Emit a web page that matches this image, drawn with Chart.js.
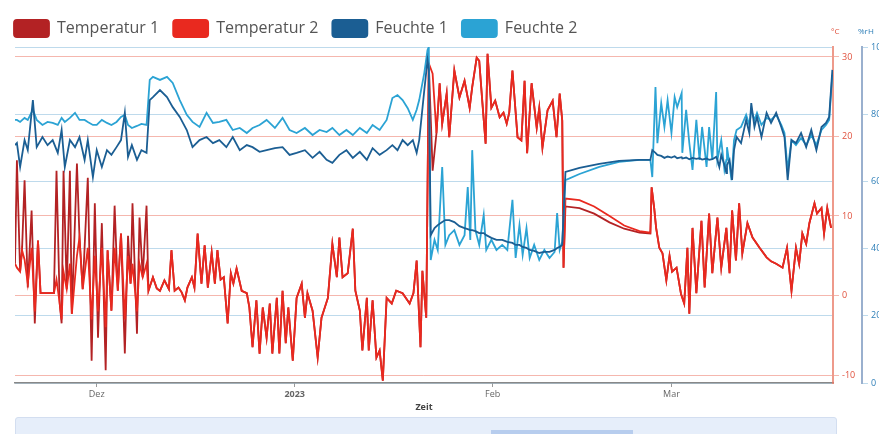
<!DOCTYPE html>
<html lang="de">
<head>
<meta charset="UTF-8">
<title>Temperatur und Feuchte</title>
<script src="https://cdn.jsdelivr.net/npm/chart.js"></script>
<style>
  html, body { margin: 0; padding: 0; background: #fff; overflow: hidden; }
  #wrap { position: absolute; left: 0; top: 0; width: 892px; height: 413px; }
  #leiste { position: absolute; left: 15px; top: 417px; width: 820px; height: 22px; background: #e6eefa; border: 1px solid #d3def0; border-radius: 3px; }
  #fenster { position: absolute; left: 475px; top: 12px; width: 142px; height: 6px; background: #b7cdee; }
</style>
</head>
<body>
<div id="wrap"><canvas id="klimaChart"></canvas></div>
<div id="leiste"><div id="fenster"></div></div>

<script>
// Zeit in Tagen ab 1. Dez 2022
const tageT = [
  -12.8, -12.5, -12.0, -11.7, -11.3, -10.8, -10.2, -9.7, -9.2, -8.8,
  -6.7, -6.3, -5.8, -5.5, -5.2, -4.7, -4.2, -3.9, -3.1, -2.7,
  -2.2, -1.4, -0.8, -0.3, 0.2, 0.8, 1.4, 1.7, 2.3, 2.8,
  3.3, 3.8, 4.4, 4.9, 5.3, 5.6, 6.3, 6.7, 7.2, 7.8, 8.1,
  8.8, 9.4, 9.9, 10.6, 11.3, 11.7, 12.2, 12.8, 13.3, 13.8,
  14.2, 14.9, 15.3, 15.8, 16.4, 16.9, 17.4, 18.0, 18.5, 18.9,
  19.4, 19.9, 20.5, 21.0, 21.4, 21.9, 22.7, 23.5, 23.9, 24.4,
  25.0, 25.5, 26.0, 26.6, 27.1, 27.5, 28.2, 28.6, 29.1, 29.6,
  30.0, 30.7, 31.3, 32.1, 32.6, 33.0, 33.8, 34.6, 35.2, 36.2,
  36.9, 37.6, 38.0, 38.5, 39.3, 40.1, 40.5, 41.2, 41.6, 42.3,
  42.6, 43.2, 43.8, 44.3, 44.8, 45.4, 46.2, 46.9, 47.9, 49.0,
  49.6, 50.1, 50.7, 51.0, 51.6,
  52.0, 52.6, 53.2, 53.7, 54.1, 54.8, 55.2, 56.0, 56.8, 57.6,
  58.4, 58.8, 59.5, 59.9, 60.4, 60.9, 61.2, 61.8, 62.4, 63.1,
  63.7, 64.2, 64.6, 65.1, 65.9, 66.5, 67.0, 67.4, 68.1, 68.9,
  69.3, 69.8, 70.6, 71.4, 72.0, 72.5, 72.9, 73.1,
  73.4, 75.6, 77.9, 80.3, 82.6, 85.0, 86.7,
  86.9, 87.3, 87.6, 88.1, 88.6, 89.2, 89.7, 90.1, 90.8, 91.5,
  92.0, 92.5, 92.8, 93.3, 93.9, 94.7, 95.2, 95.9, 96.4, 97.2,
  97.8, 98.6, 99.1, 99.5, 100.1, 100.6, 101.1, 101.9, 102.7, 103.8,
  104.9, 105.6, 106.4, 107.4, 108.1, 108.8, 109.5, 110.0, 110.5, 111.1,
  111.6, 112.4, 112.8, 113.5, 113.9, 114.4, 115.0
];

const temp1 = [
  4.0, 17.0, 3.0, 5.7, 14.5, 1.0, 10.7, -3.5, 6.9, 0.3,
  0.3, 15.7, -1.0, -3.5, 15.7, 0.8, 15.7, -2.3, 16.6, 7.3,
  0.8, 14.8, -8.2, 11.6, -5.3, 9.1, -9.4, 5.7, -1.9, 11.3,
  0.6, 7.8, -7.3, 7.5, 1.5, 11.6, -4.8, 9.8, 2.3, 11.3, 0.6,
  2.3, 0.9, 0.6, 1.9, 0.8, 5.7, 0.6, 1.0, 0.4, -0.6,
  1.0, 2.3, 1.0, 7.8, 1.5, 6.3, 1.0, 5.4, 1.5, 5.7,
  2.0, 2.3, -3.5, 2.8, 1.5, 3.4, 0.6, 0.3, -1.5, -6.5,
  -0.6, -7.3, -1.5, -5.3, -1.0, -7.3, -0.3, -7.3, 0.6, -6.0,
  -1.5, -8.2, -0.3, 1.5, -2.8, 0.3, -1.9, -7.8, -2.8, -0.3,
  6.5, 2.3, 7.3, 2.3, 2.8, 8.4, 0.6, -1.9, -6.9, -0.3,
  -6.9, -0.6, -7.8, -6.9, -10.7, -0.3, -1.0, 0.6, 0.3, -1.0,
  0.3, 4.4, -6.5, 3.1, -2.8,
  29.2, 15.7, 20.4, 26.7, 21.6, 25.4, 19.9, 28.3, 24.9, 27.0,
  23.6, 26.2, 29.9, 29.5, 24.2, 19.1, 30.4, 23.6, 24.5, 22.4,
  23.0, 21.6, 23.0, 28.3, 19.9, 19.5, 27.0, 17.9, 26.7, 21.1,
  23.6, 18.6, 23.3, 24.5, 19.9, 25.4, 22.0, 3.5,
  11.2, 11.0, 10.3, 9.2, 8.4, 7.9, 7.8,
  13.6, 11.0, 8.5, 6.0, 5.3, 1.9, 5.0, 3.0, 3.5, 0.2,
  -1.0, 6.0, -2.3, 8.5, 0.3, 9.4, 1.0, 10.3, 2.8, 9.8,
  3.5, 8.5, 2.8, 10.7, 4.4, 11.6, 5.3, 9.1, 7.3, 6.0,
  4.8, 4.3, 4.0, 3.5, 6.0, 0.6, 6.0, 4.0, 7.8, 6.5,
  9.1, 11.6, 10.3, 11.0, 7.8, 11.0, 8.5
];

const temp2 = [
  4.0, 3.5, 3.0, 5.7, 4.5, 1.5, 6.0, -2.0, 6.9, 0.3,
  0.3, 2.0, -1.0, -3.0, 3.0, 0.8, 4.0, -2.3, 5.0, 7.3,
  0.8, 6.0, -3.0, 5.0, -2.0, 6.0, -4.0, 5.7, -1.9, 6.0,
  0.6, 7.8, -3.0, 5.0, 1.5, 4.0, -2.0, 4.0, 2.3, 4.0, 0.6,
  2.3, 0.9, 0.6, 1.9, 0.8, 5.7, 0.6, 1.0, 0.4, -0.6,
  1.0, 2.3, 1.0, 7.8, 1.5, 6.3, 1.0, 5.4, 1.5, 5.7,
  2.0, 2.3, -3.5, 2.8, 1.5, 3.4, 0.6, 0.3, -1.5, -6.5,
  -0.6, -7.3, -1.5, -5.3, -1.0, -7.3, -0.3, -7.3, 0.6, -6.0,
  -1.5, -8.2, -0.3, 1.5, -2.8, 0.3, -1.9, -7.8, -2.8, -0.3,
  6.5, 2.3, 7.3, 2.3, 2.8, 8.4, 0.6, -1.9, -6.9, -0.3,
  -6.9, -0.6, -7.8, -6.9, -10.7, -0.3, -1.0, 0.6, 0.3, -1.0,
  0.3, 4.4, -6.5, 3.1, -2.8,
  29.2, 27.9, 20.4, 26.7, 21.6, 25.4, 19.9, 28.3, 24.9, 27.0,
  23.6, 26.2, 29.9, 29.5, 24.2, 19.1, 30.4, 23.6, 24.5, 22.4,
  23.0, 21.6, 23.0, 28.3, 19.9, 19.5, 27.0, 17.9, 26.7, 21.1,
  23.6, 18.6, 23.3, 24.5, 19.9, 25.4, 22.0, 3.5,
  12.2, 12.0, 11.2, 10.0, 8.8, 8.1, 7.9,
  13.6, 11.0, 8.5, 6.0, 5.3, 1.9, 5.0, 3.0, 3.5, 0.2,
  -1.0, 6.0, -2.3, 8.5, 0.3, 9.4, 1.0, 10.3, 2.8, 9.8,
  3.5, 8.5, 2.8, 10.7, 4.4, 11.6, 5.3, 9.1, 7.3, 6.0,
  4.8, 4.3, 4.0, 3.5, 6.0, 0.6, 6.0, 4.0, 7.8, 6.5,
  9.1, 11.6, 10.3, 11.0, 7.8, 11.0, 8.5
];

const tageF = [
  -12.8, -12.5, -12.0, -11.3, -10.8, -10.0, -9.4, -8.5, -7.7, -6.9,
  -6.1, -5.5, -5.0, -4.2, -3.4, -2.7, -1.9, -1.4, -0.6, 0.0,
  0.8, 1.6, 2.3, 3.1, 3.8, 4.4, 4.9, 5.5, 6.3, 7.0,
  7.8, 8.3, 8.8, 9.9, 11.0, 11.9, 13.0, 14.1, 15.0, 16.1,
  17.2, 18.2, 19.2, 20.3, 21.3, 22.4, 23.5, 24.4, 25.5, 26.6,
  27.9, 29.1, 30.2, 31.3, 32.6, 33.8, 34.9, 36.0, 36.9, 38.0,
  39.1, 40.1, 41.2, 42.3, 43.2, 44.3, 45.4, 46.3, 47.1, 47.9,
  48.7, 49.5, 50.1, 50.5, 51.3, 51.8, 52.0,
  52.3, 52.9, 53.4, 54.1, 54.6, 55.2, 56.0, 56.8, 57.6, 58.1,
  58.5, 58.8, 59.3, 59.9, 60.6, 61.0, 61.8, 62.6, 63.5, 64.3,
  65.1, 65.6, 66.2, 66.7, 67.3, 67.8, 68.5, 69.3, 70.1, 70.9,
  71.7, 72.1, 72.5, 72.9,
  73.4, 75.6, 78.7, 81.8, 85.0, 86.7,
  87.0, 87.5, 87.8, 88.4, 88.9, 89.4, 90.0, 90.5, 90.9, 91.6,
  91.7, 92.3, 92.8, 93.3, 93.9, 94.4, 94.8, 95.5, 95.9, 96.4,
  97.0, 97.2, 97.5, 97.8, 98.3, 98.6, 98.7, 99.1, 99.4, 99.5,
  99.8, 100.2, 100.9, 101.7, 102.2, 102.5, 103.0, 103.4, 104.1, 104.9,
  105.6, 106.4, 107.2, 107.7, 108.2, 108.8, 109.5, 110.3, 111.1, 111.9,
  112.7, 113.5, 114.2, 114.7, 115.2
];

const feuchte1 = [
  70.8, 71.4, 64.3, 72.3, 69.3, 84.2, 70.2, 73.2, 70.8, 72.3,
  68.5, 75.3, 64.3, 72.3, 70.2, 73.2, 66.4, 72.3, 61.3, 69.3,
  64.3, 69.3, 67.9, 70.2, 72.3, 80.4, 67.3, 70.8, 66.4, 69.3,
  68.5, 84.2, 85.1, 87.2, 85.1, 82.1, 79.2, 75.3, 70.2, 72.3,
  73.2, 71.4, 72.3, 70.2, 73.2, 69.3, 70.8, 70.2, 68.8, 69.3,
  69.9, 70.2, 67.9, 68.5, 69.3, 67.0, 68.8, 66.4, 65.5, 67.9,
  69.3, 67.0, 68.8, 66.4, 69.9, 67.9, 69.3, 70.8, 69.3, 72.3,
  70.8, 72.3, 68.5, 72.3, 87.2, 96.1, 93.2,
  44.0, 46.1, 47.0, 47.9, 48.5, 48.5, 47.9, 46.7, 46.1, 45.8,
  45.5, 45.5, 45.2, 44.6, 44.6, 44.0, 43.2, 42.6, 42.6, 42.0,
  41.7, 41.1, 41.1, 40.5, 40.2, 39.6, 39.3, 38.7, 39.0, 39.0,
  39.6, 40.2, 40.5, 41.1,
  62.8, 64.0, 65.2, 66.1, 66.4, 66.4,
  69.3, 68.5, 67.9, 67.6, 67.0, 67.4, 67.1, 67.5, 66.9, 67.2,
  66.8, 67.1, 66.6, 67.0, 66.7, 66.9, 66.5, 66.8, 66.4, 66.6,
  67.3, 66.4, 64.3, 67.9, 64.9, 62.5, 64.9, 66.4, 61.9, 60.4,
  69.3, 73.2, 71.4, 78.3, 74.4, 83.3, 76.2, 79.2, 73.2, 80.4,
  77.4, 80.4, 76.2, 73.2, 60.4, 72.3, 71.4, 74.4, 70.2, 75.3,
  69.3, 76.2, 77.4, 79.2, 93.2
];

const feuchte2 = [
  78.3, 78.3, 77.7, 78.9, 78.3, 81.3, 78.3, 76.8, 77.7, 77.4,
  76.8, 78.9, 77.7, 78.9, 80.4, 78.3, 78.3, 77.7, 76.8, 76.8,
  78.3, 77.4, 76.8, 77.7, 79.2, 79.8, 76.8, 75.9, 76.5, 77.1,
  76.8, 90.2, 91.1, 90.2, 91.1, 89.3, 84.2, 79.8, 77.7, 76.2,
  80.4, 77.4, 77.7, 78.3, 75.3, 75.9, 74.4, 75.9, 76.8, 78.3,
  75.9, 78.9, 75.3, 74.4, 75.9, 73.8, 75.3, 74.7, 75.9, 73.8,
  75.3, 73.8, 75.9, 74.4, 76.8, 75.3, 78.3, 84.8, 85.7, 84.2,
  81.8, 78.3, 81.3, 84.2, 92.3, 99.1, 100.0,
  36.6, 42.6, 39.6, 64.3, 41.1, 44.0, 45.5, 41.1, 44.0, 58.3,
  42.6, 69.3, 45.5, 41.1, 50.0, 39.6, 42.6, 39.6, 41.1, 39.6,
  54.5, 37.2, 47.0, 38.1, 46.1, 37.2, 41.1, 36.6, 39.6, 37.2,
  39.0, 50.6, 39.6, 42.0,
  60.4, 62.2, 64.3, 65.8, 66.4, 66.4,
  61.3, 88.1, 71.4, 83.3, 76.2, 84.2, 74.4, 85.1, 82.1, 86.3,
  68.5, 81.3, 71.4, 63.4, 78.3, 66.4, 76.2, 64.3, 76.2, 66.4,
  86.6, 66.4, 69.3, 72.3, 63.4, 66.4, 70.2, 64.9, 60.4, 63.4,
  72.3, 75.3, 76.2, 79.8, 76.8, 81.3, 78.3, 80.4, 76.8, 78.9,
  78.3, 79.8, 76.8, 74.4, 63.4, 72.3, 70.8, 72.9, 70.8, 73.8,
  70.8, 75.3, 76.8, 78.3, 91.7
];

// Achsenbeschriftungen
const monatsTicks = [0, 31, 62, 90];
const monatsLabels = ['Dez', '2023', 'Feb', 'Mar'];
const tempTicks = [-10, 0, 10, 20, 30];
const feuchteTicks = [0, 20, 40, 60, 80, 100];

function punkte(xs, ys) {
    return xs.map((x, i) => ({ x: x, y: ys[i] }));
}

// kleine Einheiten über den rechten Achsen
const einheitenPlugin = {
    id: 'einheiten',
    afterDraw(chart) {
        const ctx = chart.ctx;
        const yT = chart.scales.yT;
        const yF = chart.scales.yF;
        ctx.save();
        ctx.font = "8px 'Open Sans', sans-serif";
        ctx.textBaseline = 'middle';
        ctx.fillStyle = '#e0503c';
        ctx.fillText('°C', yT.left - 2, 32);
        ctx.fillStyle = '#2e7fb8';
        ctx.fillText('%rH', yF.left - 4, 32);
        ctx.restore();
    }
};

Chart.defaults.font.family = "'Open Sans', 'DejaVu Sans', sans-serif";

const ctx = document.getElementById('klimaChart').getContext('2d');
new Chart(ctx, {
    type: 'line',
    data: {
        datasets: [
            { label: 'Temperatur 1', data: punkte(tageT, temp1), yAxisID: 'yT', order: 3,
              borderColor: '#b32224', backgroundColor: '#b32224' },
            { label: 'Temperatur 2', data: punkte(tageT, temp2), yAxisID: 'yT', order: 2,
              borderColor: '#e9291f', backgroundColor: '#e9291f' },
            { label: 'Feuchte 1', data: punkte(tageF, feuchte1), yAxisID: 'yF', order: 0,
              borderColor: '#1b5e93', backgroundColor: '#1b5e93' },
            { label: 'Feuchte 2', data: punkte(tageF, feuchte2), yAxisID: 'yF', order: 1,
              borderColor: '#2ba3d4', backgroundColor: '#2ba3d4' }
        ]
    },
    options: {
        responsive: true,
        maintainAspectRatio: false,
        animation: false,
        layout: { padding: { top: 6, left: 0, right: 0, bottom: 0 } },
        elements: {
            point: { radius: 0 },
            line: { borderWidth: 1.8, tension: 0 }
        },
        plugins: {
            tooltip: { enabled: false },
            legend: {
                position: 'top',
                align: 'start',
                labels: {
                    boxWidth: 35,
                    boxHeight: 17,
                    useBorderRadius: true,
                    borderRadius: 3,
                    padding: 14,
                    color: '#555',
                    font: { size: 16 },
                    sort: (a, b) => a.datasetIndex - b.datasetIndex
                }
            }
        },
        scales: {
            x: {
                type: 'linear',
                min: -12.8,
                max: 115.3,
                afterBuildTicks: (scale) => { scale.ticks = monatsTicks.map(v => ({ value: v })); },
                afterFit: (scale) => { scale.height = 30; },
                ticks: {
                    autoSkip: false,
                    maxRotation: 0,
                    padding: 2,
                    color: '#666',
                    font: (c) => (c.tick && c.tick.value === 31) ? { size: 9, weight: 'bold' } : { size: 9 },
                    callback: (v) => monatsLabels[monatsTicks.indexOf(v)]
                },
                grid: { drawOnChartArea: false, tickLength: 4, color: '#999' },
                border: { color: '#888', width: 1.5 },
                title: { display: true, text: 'Zeit', color: '#444', font: { size: 9, weight: 'bold' }, padding: 0 }
            },
            links: {
                type: 'linear',
                position: 'left',
                ticks: { display: false },
                grid: { display: false },
                border: { display: false },
                afterFit: (scale) => { scale.width = 15; }
            },
            yT: {
                type: 'linear',
                position: 'right',
                min: -11,
                max: 31.25,
                afterBuildTicks: (scale) => { scale.ticks = tempTicks.map(v => ({ value: v })); },
                afterFit: (scale) => { scale.width = 29; },
                ticks: { color: '#e0503c', font: { size: 9 }, padding: 3 },
                grid: { color: 'rgba(232, 95, 75, 0.45)', tickLength: 6 },
                border: { color: 'rgba(232, 120, 100, 0.75)', width: 2 }
            },
            yF: {
                type: 'linear',
                position: 'right',
                min: 0,
                max: 100,
                afterBuildTicks: (scale) => { scale.ticks = feuchteTicks.map(v => ({ value: v })); },
                afterFit: (scale) => { scale.width = 30; },
                ticks: { color: '#2e7fb8', font: { size: 9 }, padding: 3 },
                grid: { color: 'rgba(70, 150, 200, 0.35)', tickLength: 6 },
                border: { color: 'rgba(120, 150, 190, 0.75)', width: 2 }
            }
        }
    },
    plugins: [einheitenPlugin]
});
</script>
</body>
</html>
